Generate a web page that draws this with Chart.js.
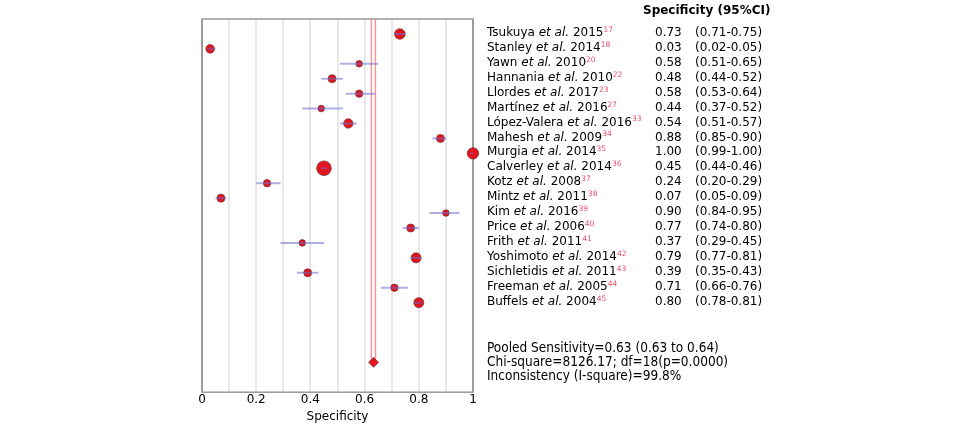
<!DOCTYPE html>
<html>
<head>
<meta charset="utf-8">
<script src="https://cdn.jsdelivr.net/npm/chart.js@4.4.0/dist/chart.umd.min.js"></script>
<style>
  html, body { margin: 0; padding: 0; background: #fff; }
  #wrap { width: 974px; height: 427px; position: relative; }
</style>
</head>
<body>
<div id="wrap"><canvas id="forest"></canvas></div>
<script>
// study data, one entry per row (top to bottom)
const authors = ['Tsukuya', 'Stanley', 'Yawn', 'Hannania', 'Llordes', 'Martínez', 'López-Valera', 'Mahesh', 'Murgia',
  'Calverley', 'Kotz', 'Mintz', 'Kim', 'Price', 'Frith', 'Yoshimoto', 'Sichletidis', 'Freeman', 'Buffels'];
const years = [2015, 2014, 2010, 2010, 2017, 2016, 2016, 2009, 2014, 2014, 2008, 2011, 2016, 2006, 2011, 2014, 2011, 2005, 2004];
const refs = [17, 18, 20, 22, 23, 27, 33, 34, 35, 36, 37, 38, 39, 40, 41, 42, 43, 44, 45];
const spec = [0.73, 0.03, 0.58, 0.48, 0.58, 0.44, 0.54, 0.88, 1.00, 0.45, 0.24, 0.07, 0.90, 0.77, 0.37, 0.79, 0.39, 0.71, 0.80];
const ciLow = [0.71, 0.02, 0.51, 0.44, 0.53, 0.37, 0.51, 0.85, 0.99, 0.44, 0.20, 0.05, 0.84, 0.74, 0.29, 0.77, 0.35, 0.66, 0.78];
const ciHigh = [0.75, 0.05, 0.65, 0.52, 0.64, 0.52, 0.57, 0.90, 1.00, 0.46, 0.29, 0.09, 0.95, 0.80, 0.45, 0.81, 0.43, 0.76, 0.81];
// relative study weight (drives marker size)
const weights = [5.3, 4.3, 3.3, 4, 3.7, 3.3, 4.7, 4, 5.7, 7.3, 3.7, 4, 3.3, 4, 3.3, 5, 4, 3.7, 5];

// pooled estimate
const pooled = 0.633;
const pooledLines = [0.625, 0.64];
const pooledRow = 22;
const statLines = [
  'Pooled Sensitivity=0.63 (0.63 to 0.64)',
  'Chi-square=8126.17; df=18(p=0.0000)',
  'Inconsistency (I-square)=99.8%'
];

const xTickLabels = ['0', '', '0.2', '', '0.4', '', '0.6', '', '0.8', '', '1'];

Chart.defaults.font.family = '"DejaVu Sans"';
Chart.defaults.font.size = 12;
Chart.defaults.color = '#000';

// CI segments, broken with null points
const ciData = [];
spec.forEach((v, i) => {
  ciData.push({ x: ciLow[i], y: i }, { x: ciHigh[i], y: i }, { x: null, y: null });
});

const pooledData = [];
pooledLines.forEach(x => {
  pooledData.push({ x: x, y: -1 }, { x: x, y: pooledRow }, { x: null, y: null });
});

const framePlugin = {
  id: 'frame',
  beforeDatasetsDraw(chart) {
    const { ctx, chartArea: a } = chart;
    ctx.save();
    ctx.strokeStyle = '#9a9a9a';
    ctx.lineWidth = 1.5;
    ctx.strokeRect(a.left, a.top, a.right - a.left, a.bottom - a.top);
    ctx.restore();
  }
};

const tablePlugin = {
  id: 'studyTable',
  afterDraw(chart) {
    const ctx = chart.ctx;
    const yScale = chart.scales.y;
    const reg = '12px "DejaVu Sans"';
    ctx.save();
    ctx.textBaseline = 'middle';
    ctx.fillStyle = '#000';
    ctx.font = 'bold 12px "DejaVu Sans"';
    ctx.fillText('Specificity (95%CI)', 643, 11);

    authors.forEach((name, i) => {
      const py = yScale.getPixelForValue(i) - 1;
      let px = 487;
      ctx.fillStyle = '#000';
      ctx.font = reg;
      ctx.fillText(name + ' ', px, py);
      px += ctx.measureText(name + ' ').width;
      ctx.font = 'italic 12px "DejaVu Sans"';
      ctx.fillText('et al.', px, py);
      px += ctx.measureText('et al.').width;
      ctx.font = reg;
      ctx.fillText(' ' + years[i], px, py);
      px += ctx.measureText(' ' + years[i]).width;
      ctx.font = '7.5px "DejaVu Sans"';
      ctx.fillStyle = '#e8506a';
      ctx.fillText(String(refs[i]), px, py - 3);

      ctx.fillStyle = '#000';
      ctx.font = reg;
      ctx.fillText(spec[i].toFixed(2), 655, py);
      ctx.fillText('(' + ciLow[i].toFixed(2) + '-' + ciHigh[i].toFixed(2) + ')', 695, py);
    });

    ctx.font = '13.5px "DejaVu Sans Condensed"';
    statLines.forEach((s, k) => ctx.fillText(s, 487, 348 + 14 * k));
    ctx.restore();
  }
};

new Chart(document.getElementById('forest'), {
  type: 'scatter',
  data: {
    datasets: [
      {
        label: 'CI',
        data: ciData,
        showLine: true,
        spanGaps: false,
        borderColor: 'rgba(110, 110, 210, 0.55)',
        borderWidth: 2,
        pointRadius: 0,
        order: 0
      },
      {
        label: 'Specificity',
        data: spec.map((v, i) => ({ x: v, y: i })),
        pointRadius: weights,
        pointStyle: 'circle',
        backgroundColor: '#e3141c',
        borderColor: 'rgba(110, 50, 50, 0.7)',
        borderWidth: 1,
        clip: false,
        order: 1
      },
      {
        label: 'Pooled',
        data: [{ x: pooled, y: pooledRow }],
        pointStyle: 'rectRot',
        pointRadius: 5,
        backgroundColor: '#e3141c',
        borderColor: 'rgba(110, 50, 50, 0.7)',
        borderWidth: 1,
        order: 1
      },
      {
        label: 'Pooled CI',
        data: pooledData,
        showLine: true,
        spanGaps: false,
        borderColor: 'rgba(240, 110, 110, 0.7)',
        borderWidth: 1.5,
        pointRadius: 0,
        order: 2
      }
    ]
  },
  options: {
    responsive: true,
    maintainAspectRatio: false,
    animation: false,
    layout: {
      padding: { left: 202, right: 501, top: 19, bottom: 3 }
    },
    plugins: {
      legend: { display: false },
      tooltip: { enabled: false }
    },
    scales: {
      x: {
        type: 'linear',
        min: 0,
        max: 1,
        ticks: {
          stepSize: 0.1,
          padding: 0,
          autoSkip: false,
          maxRotation: 0,
          callback: (v, i) => xTickLabels[i]
        },
        grid: {
          drawTicks: false,
          lineWidth: 2,
          color: ctx => (ctx.index === 0 || ctx.index === 10) ? '#9a9a9a' : '#e8e8e8'
        },
        border: { display: false },
        title: {
          display: true,
          text: 'Specificity',
          padding: { top: 3, bottom: 0 }
        }
      },
      y: {
        type: 'linear',
        display: false,
        min: -1,
        max: 24,
        reverse: true
      }
    }
  },
  plugins: [framePlugin, tablePlugin]
});
</script>
</body>
</html>
